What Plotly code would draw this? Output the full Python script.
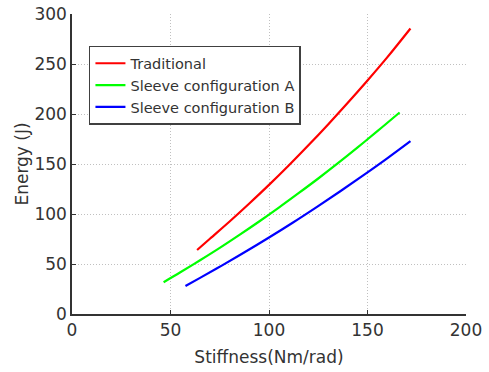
import plotly.graph_objects as go

# Stiffness (Nm/rad) and Energy (J)
trad_k = [63.5, 70, 80, 90, 100, 110, 120, 130, 140, 150, 160, 171.8]
trad_e = [64.0, 75.3, 92.5, 110.5, 129.1, 148.5, 168.7, 189.6, 211.2, 233.5, 256.6, 285.5]

sleeve_a_k = [46.5, 55, 65, 75, 85, 95, 105, 115, 125, 135, 145, 155, 166.3]
sleeve_a_e = [31.8, 41.7, 53.7, 66.1, 79.1, 92.5, 106.4, 120.8, 135.5, 150.8, 166.6, 182.8, 201.5]

sleeve_b_k = [57.6, 65, 76, 88, 100, 112, 124, 136, 148, 160, 171.8]
sleeve_b_e = [28.0, 36.1, 48.4, 62.2, 76.5, 91.3, 106.7, 122.5, 138.8, 155.6, 172.8]

names = ["Traditional", "Sleeve configuration A", "Sleeve configuration B"]
colors = ["#ff0000", "#00ff00", "#0000ff"]

x_ticks = [0, 50, 100, 150, 200]
y_ticks = [0, 50, 100, 150, 200, 250, 300]

FONT = "DejaVu Sans"
TXT = "#333333"

fig = go.Figure()
for kx, ey, nm, c in zip([trad_k, sleeve_a_k, sleeve_b_k],
                         [trad_e, sleeve_a_e, sleeve_b_e], names, colors):
    fig.add_trace(go.Scatter(x=kx, y=ey, mode="lines", name=nm,
                             line=dict(color=c, width=2.2, shape="spline")))

axis_common = dict(
    showline=True, linecolor=TXT, linewidth=1.5, mirror=False,
    ticks="inside", ticklen=4, tickwidth=1, tickcolor=TXT,
    showgrid=True, gridcolor="#c0c0c0", gridwidth=1, griddash="1px,2px",
    zeroline=False, automargin=False,
    tickfont=dict(family=FONT, size=17, color=TXT),
)

fig.update_xaxes(range=[0, 200], tickvals=x_ticks,
                 title=dict(text="Stiffness(Nm/rad)", font=dict(family=FONT, size=17, color=TXT), standoff=12),
                 **axis_common)
fig.update_yaxes(range=[0, 300], tickvals=y_ticks,
                 title=dict(text="Energy (J)", font=dict(family=FONT, size=17, color=TXT), standoff=1),
                 **axis_common)

fig.update_layout(
    width=489, height=372,
    margin=dict(l=71.5, r=23, t=14, b=58),
    paper_bgcolor="white", plot_bgcolor="white",
    font=dict(family=FONT, color=TXT),
    showlegend=True,
    legend=dict(x=0.043, y=0.894, xanchor="left", yanchor="top",
                bgcolor="white", bordercolor="#404040", borderwidth=1.5,
                font=dict(family=FONT, size=14.5, color=TXT),
                tracegroupgap=0, itemwidth=30),
)

fig.write_html("out.html",
               config={"displayModeBar": False},
               post_script="document.body.style.margin='0px';document.body.style.overflow='hidden';")
